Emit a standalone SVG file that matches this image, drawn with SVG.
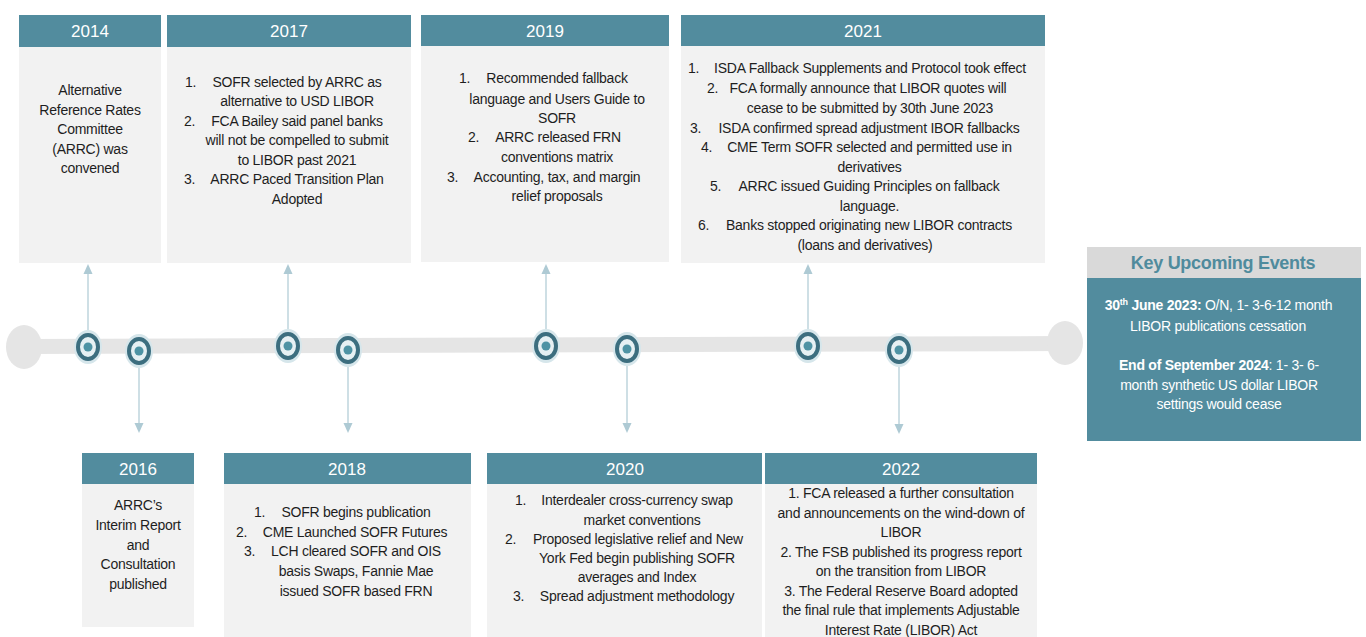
<svg xmlns="http://www.w3.org/2000/svg" width="1366" height="637" viewBox="0 0 1366 637">
<defs>
<style>
.hd{fill:#528c9e}
.bd{fill:#f2f2f2}
.yr{font-family:"Liberation Sans",Arial,sans-serif;font-size:17px;fill:#ffffff;text-anchor:middle}
.t{font-family:"Liberation Sans",Arial,sans-serif;font-size:14px;fill:#1e1e1e;letter-spacing:-0.25px}
.c{text-anchor:middle}
.w{fill:#ffffff}
.b{font-weight:bold}
.con{stroke:#aecad4;stroke-width:1.2;fill:none}
.halo{fill:#d6e6eb}
.ring{fill:#e6f0f3;stroke:#3c6e7f;stroke-width:4}
.dot{fill:#4e93a4}
</style>
<marker id="ah" viewBox="0 0 10 10" refX="0" refY="5" markerWidth="10" markerHeight="10" markerUnits="userSpaceOnUse" orient="auto">
<path d="M0,0.5 L10,5 L0,9.5 Z" fill="#aecad4"/>
</marker>
</defs>
<rect width="1366" height="637" fill="#ffffff"/>

<!-- timeline bar -->
<g id="timeline">
<polygon points="24,339 1065,336 1065,351 24,354" fill="#e5e5e5"/>
<ellipse cx="24" cy="347" rx="18" ry="22" fill="#e5e5e5"/>
<ellipse cx="1065" cy="343" rx="18" ry="22" fill="#e5e5e5"/>
</g>

<!-- connectors -->
<g id="connectors">
<line class="con" x1="88" y1="330" x2="88" y2="274" marker-end="url(#ah)"/>
<line class="con" x1="288" y1="329" x2="288" y2="274" marker-end="url(#ah)"/>
<line class="con" x1="546" y1="329" x2="546" y2="274" marker-end="url(#ah)"/>
<line class="con" x1="808" y1="329" x2="808" y2="274" marker-end="url(#ah)"/>
<line class="con" x1="139" y1="368" x2="139" y2="423" marker-end="url(#ah)"/>
<line class="con" x1="348" y1="367" x2="348" y2="423" marker-end="url(#ah)"/>
<line class="con" x1="627" y1="366" x2="627" y2="423" marker-end="url(#ah)"/>
<line class="con" x1="899" y1="367" x2="899" y2="424" marker-end="url(#ah)"/>
</g>

<!-- timeline points -->
<g id="point-2014"><ellipse class="halo" cx="88" cy="347" rx="14" ry="17"/><ellipse class="ring" cx="88" cy="347" rx="10" ry="12"/><circle class="dot" cx="88" cy="347" r="4.5"/></g>
<g id="point-2016"><ellipse class="halo" cx="139" cy="351" rx="14" ry="17"/><ellipse class="ring" cx="139" cy="351" rx="10" ry="12"/><circle class="dot" cx="139" cy="351" r="4.5"/></g>
<g id="point-2017"><ellipse class="halo" cx="288" cy="346" rx="14" ry="17"/><ellipse class="ring" cx="288" cy="346" rx="10" ry="12"/><circle class="dot" cx="288" cy="346" r="4.5"/></g>
<g id="point-2018"><ellipse class="halo" cx="348" cy="350" rx="14" ry="17"/><ellipse class="ring" cx="348" cy="350" rx="10" ry="12"/><circle class="dot" cx="348" cy="350" r="4.5"/></g>
<g id="point-2019"><ellipse class="halo" cx="546" cy="346" rx="14" ry="17"/><ellipse class="ring" cx="546" cy="346" rx="10" ry="12"/><circle class="dot" cx="546" cy="346" r="4.5"/></g>
<g id="point-2020"><ellipse class="halo" cx="627" cy="349" rx="14" ry="17"/><ellipse class="ring" cx="627" cy="349" rx="10" ry="12"/><circle class="dot" cx="627" cy="349" r="4.5"/></g>
<g id="point-2021"><ellipse class="halo" cx="808" cy="346" rx="14" ry="17"/><ellipse class="ring" cx="808" cy="346" rx="10" ry="12"/><circle class="dot" cx="808" cy="346" r="4.5"/></g>
<g id="point-2022"><ellipse class="halo" cx="899" cy="350" rx="14" ry="17"/><ellipse class="ring" cx="899" cy="350" rx="10" ry="12"/><circle class="dot" cx="899" cy="350" r="4.5"/></g>

<!-- 2014 -->
<g id="box-2014">
<rect class="bd" x="19" y="47" width="142" height="216"/>
<rect class="hd" x="19" y="15" width="142" height="32"/>
<text class="yr" x="90" y="37">2014</text>
<text class="t c" x="90" y="95">Alternative</text>
<text class="t c" x="90" y="115">Reference Rates</text>
<text class="t c" x="90" y="134">Committee</text>
<text class="t c" x="90" y="154">(ARRC) was</text>
<text class="t c" x="90" y="173">convened</text>
</g>

<!-- 2017 -->
<g id="box-2017">
<rect class="bd" x="167" y="47" width="244" height="216"/>
<rect class="hd" x="167" y="15" width="244" height="32"/>
<text class="yr" x="289" y="37">2017</text>
<text class="t" x="185" y="87">1.</text>
<text class="t c" x="297" y="87">SOFR selected by ARRC as</text>
<text class="t c" x="297" y="106">alternative  to USD LIBOR</text>
<text class="t" x="184" y="126">2.</text>
<text class="t c" x="297" y="126">FCA Bailey said panel banks</text>
<text class="t c" x="297" y="145">will not be compelled to submit</text>
<text class="t c" x="297" y="165">to LIBOR past 2021</text>
<text class="t" x="184" y="184">3.</text>
<text class="t c" x="297" y="184">ARRC Paced Transition Plan</text>
<text class="t c" x="297" y="204">Adopted</text>
</g>

<!-- 2019 -->
<g id="box-2019">
<rect class="bd" x="421" y="46" width="248" height="216"/>
<rect class="hd" x="421" y="15" width="248" height="31"/>
<text class="yr" x="545" y="37">2019</text>
<text class="t" x="459" y="83">1.</text>
<text class="t c" x="557" y="83">Recommended fallback</text>
<text class="t c" x="557" y="104">language and Users Guide to</text>
<text class="t c" x="557" y="123">SOFR</text>
<text class="t" x="468" y="142">2.</text>
<text class="t c" x="558" y="142">ARRC released FRN</text>
<text class="t c" x="557" y="162">conventions matrix</text>
<text class="t" x="447" y="182">3.</text>
<text class="t c" x="557" y="182">Accounting, tax,  and margin</text>
<text class="t c" x="557" y="201">relief proposals</text>
</g>

<!-- 2021 -->
<g id="box-2021">
<rect class="bd" x="681" y="46" width="364" height="217"/>
<rect class="hd" x="681" y="15" width="364" height="31"/>
<text class="yr" x="863" y="37">2021</text>
<text class="t" x="688" y="73">1.</text>
<text class="t c" x="870" y="73">ISDA Fallback Supplements and Protocol took effect</text>
<text class="t" x="707" y="93">2.</text>
<text class="t c" x="868" y="93">FCA formally announce that LIBOR quotes will</text>
<text class="t c" x="870" y="113">cease to be submitted by 30th June 2023</text>
<text class="t" x="690" y="132.5">3.</text>
<text class="t c" x="869" y="132.5">ISDA confirmed spread adjustment IBOR fallbacks</text>
<text class="t" x="701" y="152">4.</text>
<text class="t c" x="869.5" y="152">CME Term SOFR selected and permitted use in</text>
<text class="t c" x="869.5" y="171.5">derivatives</text>
<text class="t" x="710" y="191">5.</text>
<text class="t c" x="869" y="191">ARRC issued Guiding Principles on fallback</text>
<text class="t c" x="869.5" y="210.5">language.</text>
<text class="t" x="698" y="230">6.</text>
<text class="t c" x="869" y="230">Banks stopped originating new LIBOR contracts</text>
<text class="t c" x="865" y="249.5">(loans and derivatives)</text>
</g>

<!-- 2016 -->
<g id="box-2016">
<rect class="bd" x="82" y="484" width="112" height="143"/>
<rect class="hd" x="82" y="453" width="112" height="31"/>
<text class="yr" x="138" y="475">2016</text>
<text class="t c" x="138" y="510">ARRC’s</text>
<text class="t c" x="138" y="530">Interim Report</text>
<text class="t c" x="138" y="550">and</text>
<text class="t c" x="138" y="569">Consultation</text>
<text class="t c" x="138" y="589">published</text>
</g>

<!-- 2018 -->
<g id="box-2018">
<rect class="bd" x="224" y="484" width="247" height="153"/>
<rect class="hd" x="224" y="453" width="247" height="31"/>
<text class="yr" x="347" y="475">2018</text>
<text class="t" x="254" y="517">1.</text>
<text class="t c" x="356" y="517">SOFR begins publication</text>
<text class="t" x="236" y="537">2.</text>
<text class="t c" x="355" y="537">CME Launched SOFR Futures</text>
<text class="t" x="244" y="556">3.</text>
<text class="t c" x="356" y="556">LCH cleared SOFR and OIS</text>
<text class="t c" x="356" y="576">basis Swaps, Fannie Mae</text>
<text class="t c" x="356" y="596">issued SOFR based FRN</text>
</g>

<!-- 2020 -->
<g id="box-2020">
<rect class="bd" x="487" y="484" width="275" height="153"/>
<rect class="hd" x="487" y="453" width="275" height="31"/>
<text class="yr" x="625" y="475">2020</text>
<text class="t" x="515" y="505">1.</text>
<text class="t c" x="637" y="505">Interdealer cross-currency swap</text>
<text class="t c" x="642" y="524.5">market conventions</text>
<text class="t" x="505" y="543.5">2.</text>
<text class="t c" x="638" y="543.5">Proposed legislative relief and New</text>
<text class="t c" x="637" y="562.5">York Fed begin publishing SOFR</text>
<text class="t c" x="637" y="581.5">averages and Index</text>
<text class="t" x="513" y="600.5">3.</text>
<text class="t c" x="637" y="600.5">Spread adjustment methodology</text>
</g>

<!-- 2022 -->
<g id="box-2022">
<rect class="bd" x="765" y="484" width="272" height="153"/>
<rect class="hd" x="765" y="453" width="272" height="31"/>
<text class="yr" x="901" y="475">2022</text>
<text class="t c" x="901" y="498">1. FCA released a further consultation</text>
<text class="t c" x="901" y="517.5">and announcements on the wind-down of</text>
<text class="t c" x="901" y="537">LIBOR</text>
<text class="t c" x="901" y="556.5">2. The FSB published its progress report</text>
<text class="t c" x="901" y="576">on the transition  from LIBOR</text>
<text class="t c" x="901" y="595.5">3. The Federal Reserve Board adopted</text>
<text class="t c" x="901" y="615">the final rule that implements Adjustable</text>
<text class="t c" x="901" y="634.5">Interest Rate (LIBOR) Act</text>
</g>

<!-- Key upcoming events -->
<g id="box-key">
<rect x="1087" y="247" width="274" height="31" fill="#d9d9d9"/>
<rect class="hd" x="1087" y="278" width="274" height="163"/>
<text x="1223" y="269" font-family="'Liberation Sans',Arial,sans-serif" font-size="18" font-weight="bold" fill="#4f8b9d" text-anchor="middle" letter-spacing="-0.3">Key Upcoming Events</text>
<text class="t w c" x="1218.5" y="310"><tspan class="b">30</tspan><tspan class="b" font-size="9" dy="-5">th</tspan><tspan class="b" dy="5"> June 2023:</tspan>  O/N, 1- 3-6-12 month</text>
<text class="t w c" x="1218" y="331">LIBOR publications cessation</text>
<text class="t w c" x="1219" y="370"><tspan class="b">End of September 2024</tspan>: 1- 3- 6-</text>
<text class="t w c" x="1219" y="390">month synthetic US dollar LIBOR</text>
<text class="t w c" x="1219" y="409">settings would cease</text>
</g>
</svg>
